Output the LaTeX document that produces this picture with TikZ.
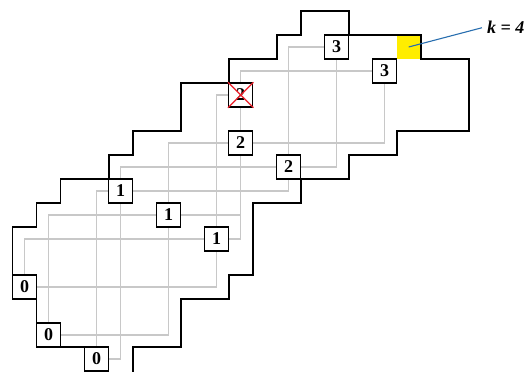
\documentclass[tikz,border=0pt]{standalone}
\usepackage{fontspec}
\setmainfont{Liberation Serif}
\usetikzlibrary{backgrounds}
\definecolor{gline}{RGB}{200,200,200}
\definecolor{kyellow}{RGB}{255,237,0}
\definecolor{kblue}{RGB}{40,110,175}
\definecolor{xred}{RGB}{235,30,40}
\tikzset{
  numbox/.style={draw=black, line width=1.5pt, fill=white, minimum size=24pt, inner sep=0pt,
    font=\fontsize{18}{18}\selectfont\bfseries},
  conn/.style={draw=gline, line width=1.3pt},
  outlinepath/.style={draw=black, line width=1.6pt},
  crossline/.style={draw=xred, line width=1.2pt},
}
\begin{document}
\begin{tikzpicture}[x=24pt,y=-24pt]
\useasboundingbox (-0.529,-0.458) rectangle (21.304,15.042);
% highlighted cell
\node[fill=kyellow, minimum size=24pt, inner sep=0pt] (ycell) at (16.5,1.5) {};
% region outline
\draw[outlinepath] (3,15.042) -- (3,14) -- (1,14) -- (1,12) -- (0,12) -- (0,9) -- (1,9) -- (1,8)
  -- (2,8) -- (2,7) -- (4,7) -- (4,6) -- (5,6) -- (5,5) -- (7,5) -- (7,3) -- (9,3) -- (9,2)
  -- (11,2) -- (11,1) -- (12,1) -- (12,0) -- (14,0) -- (14,1) -- (17,1) -- (17,2) -- (19,2)
  -- (19,5) -- (16,5) -- (16,6) -- (14,6) -- (14,7) -- (12,7) -- (12,8) -- (10,8) -- (10,11)
  -- (9,11) -- (9,12) -- (7,12) -- (7,14) -- (5,14) -- (5,15.042);
% numbered cells
\node[numbox] (A) at (13.5,1.5) {3};
\node[numbox] (B) at (15.5,2.5) {3};
\node[numbox] (X) at (9.5,3.5) {2};
\node[numbox] (C) at (9.5,5.5) {2};
\node[numbox] (D) at (11.5,6.5) {2};
\node[numbox] (E) at (4.5,7.5) {1};
\node[numbox] (F) at (6.5,8.5) {1};
\node[numbox] (G) at (8.5,9.5) {1};
\node[numbox] (H) at (0.5,11.5) {0};
\node[numbox] (I) at (1.5,13.5) {0};
\node[numbox] (J) at (3.5,14.5) {0};
% crossed cell
\draw[crossline] (X.north west) -- (X.south east);
\draw[crossline] (X.north east) -- (X.south west);
% grey connectors
\begin{scope}[on background layer]
\foreach \u/\l in {A/D, B/C, X/G, C/F, D/E, E/J, F/I, G/H} {
  \draw[conn] (\u.west) -| (\l.north);
  \draw[conn] (\l.east) -| (\u.south);
}
\end{scope}
% label
\node[font=\fontsize{18}{18}\selectfont\bfseries\itshape, inner sep=0pt, anchor=base west] (klab) at (19.76,0.958) {k = 4};
\draw[kblue, line width=1.1pt] (ycell.center) -- ([xshift=-5pt]klab.west);
\end{tikzpicture}
\end{document}
